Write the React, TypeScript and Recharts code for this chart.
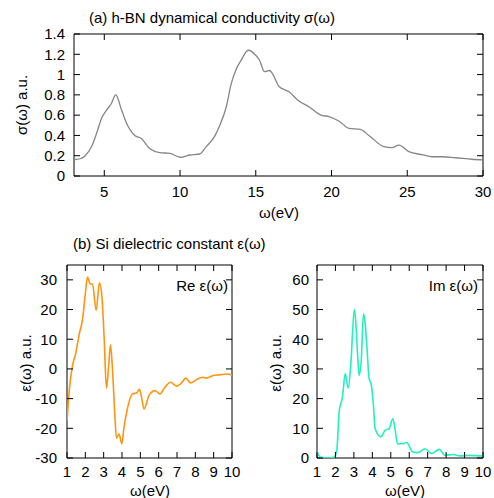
import { LineChart, Line, XAxis, YAxis, ReferenceArea } from "recharts"

// (a) h-BN dynamical conductivity
const omegaA = [3, 3.4, 3.72, 4.16, 4.49, 4.82, 5.15, 5.45, 5.76, 6.14, 6.47, 7.01, 7.45, 8.0, 8.66, 9.32, 10.02, 10.63, 11.29, 11.73, 12.28, 12.6, 13.05, 13.38, 13.7, 14.03, 14.5, 15.0, 15.24, 15.57, 15.9, 16.1, 16.55, 17.2, 17.76, 18.53, 19.3, 19.84, 20.5, 21.16, 21.9, 22.47, 23.46, 24.0, 24.45, 25.1, 25.98, 26.64, 27.3, 28.18, 29.27, 30]
const sigmaA = [0.16, 0.17, 0.197, 0.29, 0.42, 0.57, 0.65, 0.71, 0.8, 0.65, 0.52, 0.4, 0.37, 0.27, 0.23, 0.224, 0.185, 0.207, 0.217, 0.29, 0.39, 0.49, 0.68, 0.91, 1.05, 1.14, 1.24, 1.19, 1.144, 1.03, 1.04, 1.01, 0.88, 0.83, 0.75, 0.68, 0.6, 0.585, 0.54, 0.47, 0.46, 0.4, 0.29, 0.28, 0.305, 0.24, 0.21, 0.19, 0.19, 0.18, 0.165, 0.158]
const xTicksA = [5, 10, 15, 20, 25, 30]
const yTicksA = [0, 0.2, 0.4, 0.6, 0.8, 1, 1.2, 1.4]

// (b) Si dielectric constant, real part
const omegaRe = [1.0, 1.13, 1.3, 1.49, 1.67, 1.85, 1.98, 2.12, 2.27, 2.39, 2.59, 2.77, 2.9, 3.03, 3.15, 3.26, 3.37, 3.48, 3.61, 3.7, 3.84, 3.99, 4.11, 4.29, 4.57, 4.8, 4.95, 5.05, 5.2, 5.47, 5.8, 6.07, 6.34, 6.65, 6.98, 7.25, 7.48, 7.74, 8.07, 8.39, 8.61, 8.97, 9.33, 9.7, 10]
const epsRe = [-17.4, -6.7, 1.1, 5.6, 11.8, 16.8, 24.1, 30.9, 28.6, 28.6, 19.7, 29, 24.7, 10, -6.5, 0, 8.1, 0, -15.7, -23.3, -21.9, -25.2, -19.6, -13.5, -8.4, -8.1, -6.9, -9, -13.5, -9, -7.3, -8.4, -6.2, -4.5, -5.8, -4.7, -3.1, -4.7, -3.6, -2.8, -3.1, -2.2, -2, -1.7, -2]

// imaginary part
const omegaIm = [1.0, 1.18, 1.57, 1.94, 2.08, 2.2, 2.38, 2.53, 2.69, 2.84, 3.02, 3.1, 3.2, 3.28, 3.4, 3.52, 3.6, 3.7, 3.82, 3.95, 4.06, 4.15, 4.46, 4.69, 4.91, 5.11, 5.23, 5.36, 5.63, 5.86, 6.19, 6.49, 6.86, 7.22, 7.63, 7.94, 8.39, 8.75, 9.28, 9.92, 10]
const epsIm = [2.3, 0.3, 0, 0.3, 3, 15.5, 20.5, 28.4, 23.6, 32.3, 50, 46, 35, 27.8, 33, 48.6, 46, 38, 27, 24.5, 17.7, 9.9, 7.1, 9.3, 9.9, 13.2, 9.9, 4.8, 4.8, 5.2, 2, 1.8, 3.1, 1.5, 2.9, 0.9, 1.2, 0.7, 0.9, 0.7, 0.7]

const xTicksB = [1, 2, 3, 4, 5, 6, 7, 8, 9, 10]
const yTicksRe = [-30, -20, -10, 0, 10, 20, 30]
const yTicksIm = [0, 10, 20, 30, 40, 50, 60]

const FONT = '"Liberation Sans", Arial, Helvetica, sans-serif'
const FS = 15
const TICK = 6

const toRows = (xs: number[], ys: number[]) => xs.map((x, i) => ({ x, y: ys[i] }))

type PanelProps = {
  data: { x: number; y: number }[]
  color: string
  lineWidth: number
  width: number
  height: number
  margin: { top: number; right: number; bottom: number; left: number }
  xDomain: [number, number]
  xTicks: number[]
  yDomain: [number, number]
  yTicks: number[]
  yWidth: number
  xGap: number
  yGap: number
}

function Panel(p: PanelProps) {
  const top = p.margin.top
  const bottom = p.height - p.margin.bottom - 30
  const left = p.margin.left + p.yWidth
  const right = p.width - p.margin.right

  // inward ticks on both opposite borders, gnuplot style
  const xTick = (t: any) => (
    <g>
      <line x1={t.x} x2={t.x} y1={bottom} y2={bottom - TICK} stroke="#000" />
      <line x1={t.x} x2={t.x} y1={top} y2={top + TICK} stroke="#000" />
      <text x={t.x} y={bottom + p.xGap} dy="0.71em" textAnchor="middle" fill="#000" fontSize={FS}>
        {t.payload.value}
      </text>
    </g>
  )
  const yTick = (t: any) => (
    <g>
      <line x1={left} x2={left + TICK} y1={t.y} y2={t.y} stroke="#000" />
      <line x1={right} x2={right - TICK} y1={t.y} y2={t.y} stroke="#000" />
      <text x={left - p.yGap} y={t.y} dy="0.355em" textAnchor="end" fill="#000" fontSize={FS}>
        {t.payload.value}
      </text>
    </g>
  )

  return (
    <LineChart width={p.width} height={p.height} data={p.data} margin={p.margin}>
      <XAxis dataKey="x" type="number" domain={p.xDomain} ticks={p.xTicks} interval={0}
        allowDataOverflow axisLine={false} tickLine={false} tick={xTick} height={30} />
      <YAxis type="number" domain={p.yDomain} ticks={p.yTicks} interval={0}
        allowDataOverflow axisLine={false} tickLine={false} tick={yTick} width={p.yWidth} />
      <Line dataKey="y" type="monotone" stroke={p.color} strokeWidth={p.lineWidth}
        dot={false} isAnimationActive={false} />
      <ReferenceArea x1={p.xDomain[0]} x2={p.xDomain[1]} y1={p.yDomain[0]} y2={p.yDomain[1]}
        fill="none" stroke="#000" strokeWidth={1} ifOverflow="visible" />
    </LineChart>
  )
}

function Txt({ x, y, anchor = "middle", rotate = false, children }: {
  x: number; y: number; anchor?: "start" | "middle" | "end"; rotate?: boolean; children: string
}) {
  const tx = anchor === "start" ? "0" : anchor === "end" ? "-100%" : "-50%"
  return (
    <div style={{
      position: "absolute", left: x, top: y, fontSize: FS, lineHeight: 1, whiteSpace: "nowrap", color: "#000",
      transform: `translate(${tx}, -50%)${rotate ? " rotate(-90deg)" : ""}`,
    }}>
      {children}
    </div>
  )
}

export default function App() {
  return (
    <div style={{ position: "absolute", left: 0, top: 0, width: 494, height: 498, background: "#fff", fontFamily: FONT }}>
      <div style={{ position: "absolute", left: 0, top: 0 }}>
        <Panel data={toRows(omegaA, sigmaA)} color="#858585" lineWidth={1.3} width={494} height={230}
          margin={{ top: 34, right: 11, bottom: 24, left: 14 }} xDomain={[3, 30]} xTicks={xTicksA}
          yDomain={[0, 1.4]} yTicks={yTicksA} yWidth={60} xGap={10} yGap={9} />
      </div>
      <div style={{ position: "absolute", left: 0, top: 230 }}>
        <Panel data={toRows(omegaRe, epsRe)} color="#ff9410" lineWidth={1.6} width={250} height={268}
          margin={{ top: 35, right: 18, bottom: 10, left: 17 }} xDomain={[1, 10]} xTicks={xTicksB}
          yDomain={[-30, 35]} yTicks={yTicksRe} yWidth={50} xGap={8} yGap={10} />
      </div>
      <div style={{ position: "absolute", left: 250, top: 230 }}>
        <Panel data={toRows(omegaIm, epsIm)} color="#22f0bf" lineWidth={1.6} width={244} height={268}
          margin={{ top: 35, right: 11, bottom: 10, left: 17 }} xDomain={[1, 10]} xTicks={xTicksB}
          yDomain={[0, 65]} yTicks={yTicksIm} yWidth={50} xGap={8} yGap={8} />
      </div>

      <Txt x={89} y={17} anchor="start">(a) h-BN dynamical conductivity σ(ω)</Txt>
      <Txt x={21} y={105} rotate>σ(ω) a.u.</Txt>
      <Txt x={279} y={212}>ω(eV)</Txt>

      <Txt x={73} y={243} anchor="start">(b) Si dielectric constant ε(ω)</Txt>
      <Txt x={25} y={363} rotate>ε(ω) a.u.</Txt>
      <Txt x={150} y={490}>ω(eV)</Txt>
      <Txt x={228} y={285} anchor="end">Re ε(ω)</Txt>

      <Txt x={275} y={363} rotate>ε(ω) a.u.</Txt>
      <Txt x={405} y={490}>ω(eV)</Txt>
      <Txt x={478} y={285} anchor="end">Im ε(ω)</Txt>
    </div>
  )
}
